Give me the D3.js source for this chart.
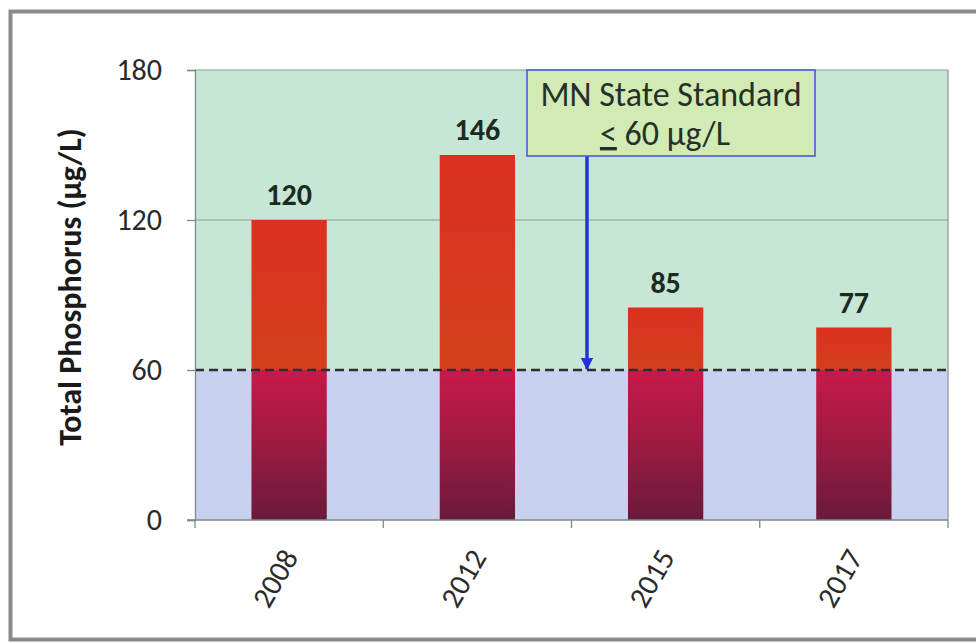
<!DOCTYPE html>
<html>
<head>
<meta charset="utf-8">
<script src="https://cdn.jsdelivr.net/npm/d3@7"></script>
<style>
  html, body { margin: 0; padding: 0; background: #fff; }
  svg { display: block; }
  text { font-family: Carlito, Calibri, Lato, "Open Sans", sans-serif; }
</style>
</head>
<body>
<svg id="chart" width="976" height="643"></svg>
<script>
// Total phosphorus by sampling year
const years = ["2008", "2012", "2015", "2017"];
const phosphorus = [120, 146, 85, 77];
const yTicks = [0, 60, 120, 180];
const standard = 60;
const yTitle = "Total Phosphorus  (µg/L)";
const noteLines = ["MN State Standard", "60 µg/L"];

const svg = d3.select("#chart");
const W = 976, H = 643;
const plot = { left: 195, right: 948, top: 70, bottom: 520 };
const FS = 30;

const x = d3.scaleBand().domain(years)
  .range([plot.left, plot.right])
  .paddingInner(0.6).paddingOuter(0.3);
const y = d3.scaleLinear().domain([0, 180]).range([plot.bottom, plot.top]);

// outer frame
svg.append("rect").attr("x", 10.5).attr("y", 11.5).attr("width", W + 20).attr("height", 628)
  .attr("fill", "#fff").attr("stroke", "#8a8a8a").attr("stroke-width", 4);

const defs = svg.append("defs");
const gLow = defs.append("linearGradient").attr("id", "barLow")
  .attr("x1", 0).attr("y1", 0).attr("x2", 0).attr("y2", 1);
gLow.append("stop").attr("offset", "0%").attr("stop-color", "#c8194a");
gLow.append("stop").attr("offset", "45%").attr("stop-color", "#a01a42");
gLow.append("stop").attr("offset", "100%").attr("stop-color", "#6a1a3c");
const gHigh = defs.append("linearGradient").attr("id", "barHigh")
  .attr("x1", 0).attr("y1", 0).attr("x2", 0).attr("y2", 1);
gHigh.append("stop").attr("offset", "0%").attr("stop-color", "#dc3020");
gHigh.append("stop").attr("offset", "100%").attr("stop-color", "#d2401c");

// background zones: above / below the standard
svg.append("rect").attr("x", plot.left).attr("y", y(180))
  .attr("width", plot.right - plot.left).attr("height", y(standard) - y(180))
  .attr("fill", "#c6e6d6");
svg.append("rect").attr("x", plot.left).attr("y", y(standard))
  .attr("width", plot.right - plot.left).attr("height", y(0) - y(standard))
  .attr("fill", "#c8d2f0");

// right border of plot area
svg.append("line").attr("x1", plot.right).attr("x2", plot.right)
  .attr("y1", plot.top).attr("y2", plot.bottom)
  .attr("stroke", "#9aa6a6").attr("stroke-width", 1.5);

// horizontal gridlines at 120 and 180
[120, 180].forEach(v => {
  svg.append("line").attr("x1", plot.left).attr("x2", plot.right)
    .attr("y1", y(v)).attr("y2", y(v))
    .attr("stroke", "#8c9c94").attr("stroke-width", 1.2);
});

// bars: part above the standard and part below it
const bars = svg.append("g");
years.forEach((yr, i) => {
  const v = phosphorus[i];
  const bx = x(yr), bw = x.bandwidth();
  if (v > standard) {
    bars.append("rect").attr("x", bx).attr("y", y(v))
      .attr("width", bw).attr("height", y(standard) - y(v))
      .attr("fill", "url(#barHigh)");
  }
  const lowTop = Math.min(v, standard);
  bars.append("rect").attr("x", bx).attr("y", y(lowTop))
    .attr("width", bw).attr("height", y(0) - y(lowTop))
    .attr("fill", "url(#barLow)");
});

// value labels
svg.append("g").selectAll("text").data(years).join("text")
  .attr("x", d => x(d) + x.bandwidth() / 2)
  .attr("y", (d, i) => y(phosphorus[i]) - 15)
  .attr("text-anchor", "middle")
  .attr("font-size", FS).attr("font-weight", "bold").attr("fill", "#1c2a20")
  .text((d, i) => phosphorus[i]);

// dashed standard line
svg.append("line").attr("x1", plot.left).attr("x2", plot.right)
  .attr("y1", y(standard)).attr("y2", y(standard))
  .attr("stroke", "#2a3032").attr("stroke-width", 2.4)
  .attr("stroke-dasharray", "9,5");

// y axis
const yAxis = svg.append("g").attr("transform", `translate(${plot.left},0)`)
  .call(d3.axisLeft(y).tickValues(yTicks).tickSize(8).tickPadding(25));
yAxis.select(".domain").attr("stroke", "#7e8a8a").attr("stroke-width", 1.3);
yAxis.selectAll(".tick line").attr("stroke", "#7e8a8a").attr("stroke-width", 1.3);
yAxis.selectAll(".tick text").attr("font-size", FS).attr("fill", "#2a2a2a")
  .style("font-family", "Carlito, Calibri, Lato, sans-serif");

// x axis with boundary ticks between categories
const xAxisG = svg.append("g").attr("transform", `translate(0,${plot.bottom})`);
xAxisG.append("line").attr("x1", plot.left - 8).attr("x2", plot.right)
  .attr("stroke", "#7e8a8a").attr("stroke-width", 1.3);
const bounds = years.map(d => x(d) - x.step() * x.paddingInner() / 2).concat([plot.right]);
bounds[0] = plot.left;
xAxisG.selectAll("line.bt").data(bounds).join("line").attr("class", "bt")
  .attr("x1", d => d).attr("x2", d => d).attr("y1", 0).attr("y2", 8)
  .attr("stroke", "#7e8a8a").attr("stroke-width", 1.3);
xAxisG.selectAll("text").data(years).join("text")
  .attr("transform", d => `translate(${x(d) + x.bandwidth() / 2 + 10},37) rotate(-60)`)
  .attr("text-anchor", "end")
  .attr("font-size", FS).attr("fill", "#2a2a2a")
  .text(d => d);

// y axis title
svg.append("text")
  .attr("transform", `translate(81,287) rotate(-90)`)
  .attr("text-anchor", "middle")
  .attr("font-size", 32).attr("font-weight", "bold").attr("fill", "#1a1a1a")
  .text(yTitle);

// annotation box with arrow down to the standard line
const box = { x: 527, y: 70, w: 288, h: 86 };
const arrowX = 587;
defs.append("marker").attr("id", "arrowHead")
  .attr("viewBox", "0 0 10 10").attr("refX", 9).attr("refY", 5)
  .attr("markerWidth", 3.5).attr("markerHeight", 3.5).attr("orient", "auto")
  .append("path").attr("d", "M0,0 L10,5 L0,10 z").attr("fill", "#2233dd");
svg.append("line").attr("x1", arrowX).attr("x2", arrowX)
  .attr("y1", box.y + box.h).attr("y2", y(standard) - 1)
  .attr("stroke", "#2233dd").attr("stroke-width", 3.5)
  .attr("marker-end", "url(#arrowHead)");
svg.append("rect").attr("x", box.x).attr("y", box.y).attr("width", box.w).attr("height", box.h)
  .attr("fill", "#d2ebb4").attr("stroke", "#4a5ad0").attr("stroke-width", 1.6);
svg.append("text").attr("x", box.x + box.w / 2).attr("y", box.y + 36)
  .attr("text-anchor", "middle").attr("font-size", 34).attr("fill", "#26302a")
  .text(noteLines[0]);
const l2 = svg.append("text").attr("x", box.x + box.w / 2 - 6).attr("y", box.y + 75)
  .attr("text-anchor", "middle").attr("font-size", 34).attr("fill", "#26302a");
l2.append("tspan").attr("text-decoration", "underline").text("<");
l2.append("tspan").text(" " + noteLines[1]);
</script>
</body>
</html>
